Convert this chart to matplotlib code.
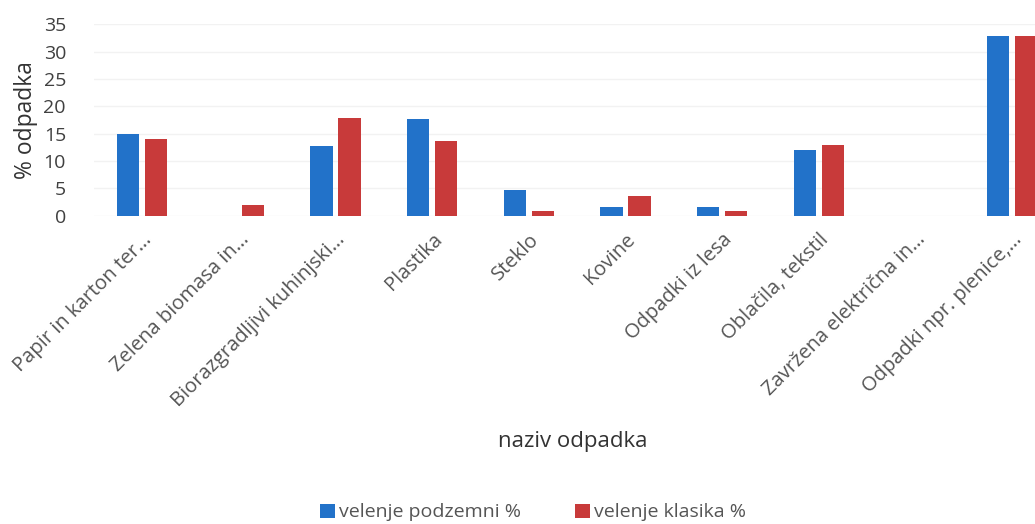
import matplotlib.pyplot as plt
import numpy as np

plt.rcParams['font.family'] = ['Open Sans', 'DejaVu Sans']

# podatki prebrani z grafa
kategorije = ["Papir in karton ter…", "Zelena biomasa in…", "Biorazgradljivi kuhinjski…",
              "Plastika", "Steklo", "Kovine", "Odpadki iz lesa", "Oblačila, tekstil",
              "Zavržena električna in…", "Odpadki npr. plenice,…"]
podzemni = [15.0, 0.0, 12.7, 17.7, 4.8, 1.7, 1.7, 12.0, 0.0, 32.8]
klasika = [14.0, 1.9, 17.8, 13.6, 0.9, 3.7, 0.9, 12.9, 0.0, 32.8]

siva = '#555555'
x = np.arange(len(kategorije))
w = 0.23

fig = plt.figure(figsize=(10.35, 5.24), dpi=100)
ax = fig.add_axes([0.0906, 0.588, 0.934, 0.366])

ax.bar(x - 0.145, podzemni, w, color='#2272c9', label='velenje podzemni %', zorder=3)
ax.bar(x + 0.145, klasika, w, color='#c83a3a', label='velenje klasika %', zorder=3)

ax.set_xlim(-0.5, len(kategorije) - 0.5)
ax.set_ylim(0, 35)
ax.set_yticks(range(0, 36, 5))
ax.grid(axis='y', color='#f2f2f2', linewidth=1, zorder=0)
for s in ax.spines.values():
    s.set_visible(False)
ax.tick_params(axis='both', length=0)
ax.tick_params(axis='y', labelsize=14, pad=20, colors='#404040')

ax.set_xticks(x)
ax.set_xticklabels(kategorije, rotation=45, ha='right', rotation_mode='anchor',
                   fontsize=14.5, color=siva)
ax.tick_params(axis='x', pad=10)

ax.set_ylabel('% odpadka', fontsize=16.5, color='#333333', labelpad=4)
fig.text(0.553, 0.158, 'naziv odpadka', fontsize=16, color='#333333',
         ha='center', va='center')

fig.legend(loc='center', bbox_to_anchor=(0.515, 0.022), ncol=2, frameon=False,
           fontsize=14, handlelength=0.75, handleheight=0.75, handletextpad=0.2,
           columnspacing=2.8, labelcolor=siva)

fig.savefig('out.png', dpi=100)
